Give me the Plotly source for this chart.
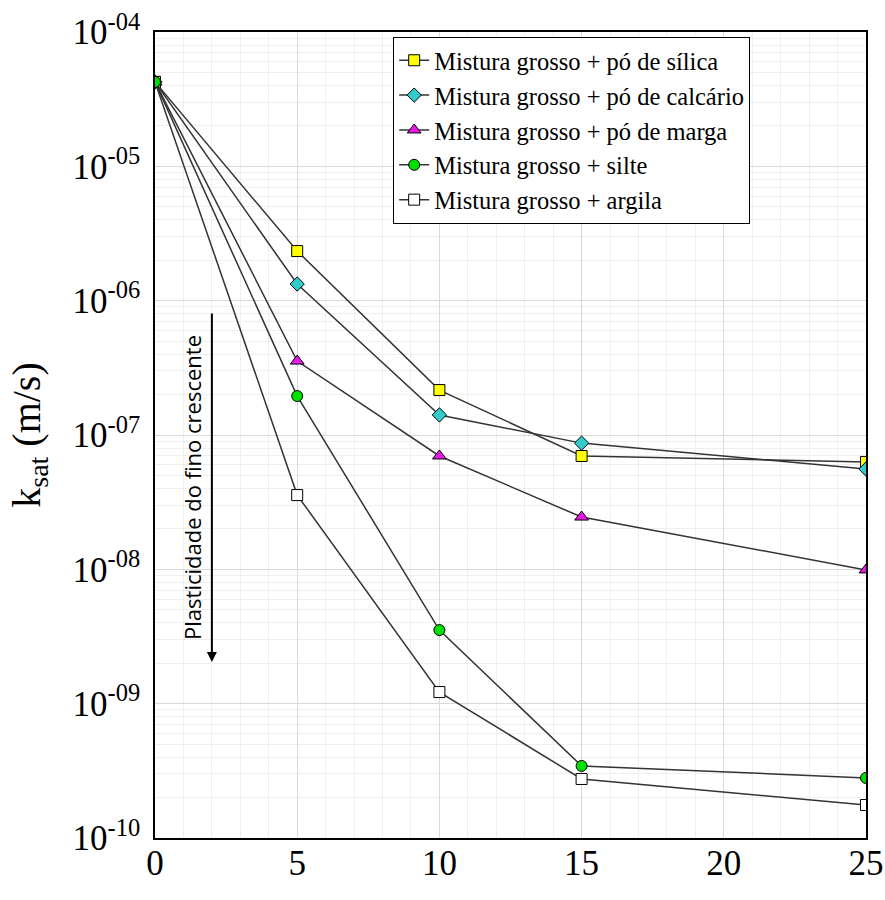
import plotly.graph_objects as go

fines = [0, 5, 10, 15, 25]
silica = [4.25e-5, 2.34e-6, 2.16e-7, 6.98e-8, 6.3e-8]
calcario = [4.25e-5, 1.33e-6, 1.41e-7, 8.7e-8, 5.58e-8]
marga = [4.25e-5, 3.55e-7, 6.98e-8, 2.45e-8, 9.9e-9]
silte = [4.25e-5, 1.95e-7, 3.53e-9, 3.44e-10, 2.8e-10]
argila = [4.25e-5, 3.57e-8, 1.22e-9, 2.75e-10, 1.76e-10]

names = ["Mistura grosso + pó de sílica", "Mistura grosso + pó de calcário",
         "Mistura grosso + pó de marga", "Mistura grosso + silte",
         "Mistura grosso + argila"]
symbols = ["square", "diamond", "triangle-up", "circle", "square"]
colors = ["#FFFF00", "#33CCCC", "#E619E6", "#00E000", "#FFFFFF"]
sizes = [11, 11, 12, 11, 11]

ytick_vals = [1e-10, 1e-9, 1e-8, 1e-7, 1e-6, 1e-5, 1e-4]
ytick_text = ["10<sup>-10</sup>", "10<sup>-09</sup>", "10<sup>-08</sup>", "10<sup>-07</sup>",
              "10<sup>-06</sup>", "10<sup>-05</sup>", "10<sup>-04</sup>"]
xtick_vals = [0, 5, 10, 15, 20, 25]

fig = go.Figure()
series = [silica, calcario, marga, silte, argila]
draw_order = [4, 0, 1, 2, 3]
for i in draw_order:
    fig.add_trace(go.Scatter(
        x=fines, y=series[i], name=names[i], mode="lines+markers", legendrank=i + 1,
        line=dict(color="#333333", width=1.5),
        marker=dict(symbol=symbols[i], size=sizes[i], color=colors[i],
                    line=dict(color="#000000", width=1)),
    ))

serif = "Liberation Serif, Times New Roman, serif"

fig.update_layout(
    width=885, height=900,
    margin=dict(l=155, r=19, t=32, b=62),
    paper_bgcolor="white", plot_bgcolor="white",
    showlegend=True,
    legend=dict(x=0.335, y=0.994, xanchor="left", yanchor="top",
                bgcolor="white", bordercolor="black", borderwidth=1,
                font=dict(family=serif, size=24.5, color="black"),
                itemwidth=30, tracegroupgap=0),
    font=dict(family=serif, color="black"),
)

fig.update_xaxes(
    range=[0, 25], tickvals=xtick_vals, showline=True, linecolor="black",
    linewidth=1.5, mirror=True, ticks="", ticklen=0, tickfont=dict(family=serif, size=35),
    ticklabelstandoff=-7,
    showgrid=True, gridcolor="#D9D9D9", gridwidth=1, automargin=False,
    minor=dict(dtick=1, showgrid=True, gridcolor="#EFEFEF", gridwidth=1),
    zeroline=False,
)
fig.update_yaxes(
    type="log", range=[-10, -4], tickvals=ytick_vals, ticktext=ytick_text,
    showline=True, linecolor="black", linewidth=1.5, mirror=True, ticks="", ticklen=0,
    tickfont=dict(family=serif, size=35), ticklabelstandoff=6, automargin=False,
    showgrid=True, gridcolor="#D9D9D9", gridwidth=1,
    minor=dict(dtick="D1", showgrid=True, gridcolor="#EFEFEF", gridwidth=1),
    title=dict(text="k<sub>sat</sub> (m/s)", font=dict(family=serif, size=40), standoff=20),
    zeroline=False,
)

fig.add_annotation(x=2.0, y=-8.69, ax=2.0, ay=-6.084, xref="x", yref="y",
                   axref="x", ayref="y", showarrow=True, arrowhead=2,
                   arrowsize=1, arrowwidth=2, arrowcolor="black", text="")
fig.add_annotation(x=1.3, y=-7.387, xref="x", yref="y", text="Plasticidade do fino crescente",
                   showarrow=False, textangle=-90,
                   font=dict(family="Open Sans, sans-serif", size=22, color="black"))

fig.write_html("out.html", post_script="document.body.style.margin='0';",
               config={"displayModeBar": False})
